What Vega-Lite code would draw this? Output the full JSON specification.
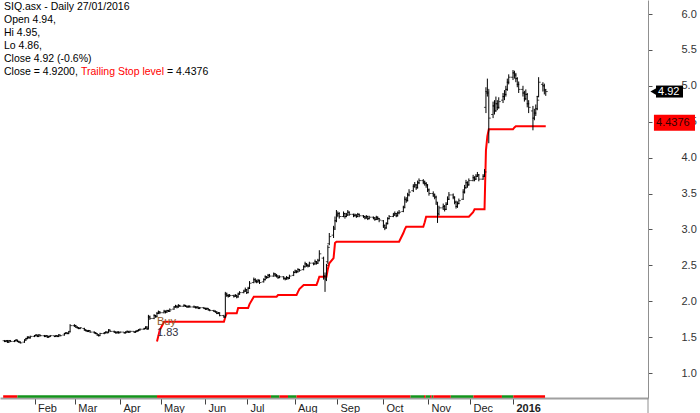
{
"$schema": "https://vega.github.io/schema/vega-lite/v6.json",
"width": 648, "height": 398,
"autosize": {"type": "none"},
"padding": {"left": 0, "top": 0, "right": 52, "bottom": 15},
"background": "white",
"config": {"view": {"stroke": null}, "font": "Liberation Sans",
  "axisY": {"labelOverlap": false, "labelFlush": false, "labelSeparation": 0}},
"datasets": {
"bars": [
{"d":"2015-01-12","o":1.45,"h":1.46,"l":1.43,"c":1.44},
{"d":"2015-01-13","o":1.44,"h":1.46,"l":1.43,"c":1.45},
{"d":"2015-01-14","o":1.45,"h":1.46,"l":1.42,"c":1.43},
{"d":"2015-01-15","o":1.43,"h":1.46,"l":1.42,"c":1.45},
{"d":"2015-01-16","o":1.45,"h":1.46,"l":1.43,"c":1.44},
{"d":"2015-01-19","o":1.44,"h":1.46,"l":1.43,"c":1.45},
{"d":"2015-01-20","o":1.45,"h":1.47,"l":1.44,"c":1.46},
{"d":"2015-01-21","o":1.46,"h":1.46,"l":1.43,"c":1.44},
{"d":"2015-01-22","o":1.44,"h":1.45,"l":1.42,"c":1.43},
{"d":"2015-01-23","o":1.43,"h":1.44,"l":1.41,"c":1.42},
{"d":"2015-01-26","o":1.43,"h":1.47,"l":1.42,"c":1.46},
{"d":"2015-01-27","o":1.46,"h":1.49,"l":1.45,"c":1.48},
{"d":"2015-01-28","o":1.48,"h":1.51,"l":1.47,"c":1.50},
{"d":"2015-01-29","o":1.50,"h":1.51,"l":1.48,"c":1.49},
{"d":"2015-01-30","o":1.49,"h":1.52,"l":1.48,"c":1.51},
{"d":"2015-02-02","o":1.51,"h":1.53,"l":1.50,"c":1.52},
{"d":"2015-02-03","o":1.52,"h":1.54,"l":1.51,"c":1.53},
{"d":"2015-02-04","o":1.53,"h":1.53,"l":1.50,"c":1.51},
{"d":"2015-02-05","o":1.51,"h":1.54,"l":1.50,"c":1.53},
{"d":"2015-02-06","o":1.53,"h":1.53,"l":1.51,"c":1.52},
{"d":"2015-02-09","o":1.52,"h":1.53,"l":1.50,"c":1.51},
{"d":"2015-02-10","o":1.51,"h":1.53,"l":1.50,"c":1.52},
{"d":"2015-02-11","o":1.52,"h":1.52,"l":1.49,"c":1.50},
{"d":"2015-02-12","o":1.50,"h":1.52,"l":1.49,"c":1.51},
{"d":"2015-02-13","o":1.51,"h":1.53,"l":1.50,"c":1.52},
{"d":"2015-02-16","o":1.52,"h":1.52,"l":1.50,"c":1.51},
{"d":"2015-02-17","o":1.51,"h":1.53,"l":1.50,"c":1.52},
{"d":"2015-02-18","o":1.52,"h":1.52,"l":1.50,"c":1.51},
{"d":"2015-02-19","o":1.51,"h":1.54,"l":1.50,"c":1.53},
{"d":"2015-02-20","o":1.53,"h":1.53,"l":1.51,"c":1.52},
{"d":"2015-02-23","o":1.53,"h":1.56,"l":1.52,"c":1.55},
{"d":"2015-02-24","o":1.55,"h":1.57,"l":1.54,"c":1.56},
{"d":"2015-02-25","o":1.56,"h":1.56,"l":1.54,"c":1.55},
{"d":"2015-02-26","o":1.55,"h":1.58,"l":1.54,"c":1.57},
{"d":"2015-02-27","o":1.58,"h":1.68,"l":1.57,"c":1.66},
{"d":"2015-03-02","o":1.66,"h":1.68,"l":1.64,"c":1.66},
{"d":"2015-03-03","o":1.66,"h":1.67,"l":1.63,"c":1.64},
{"d":"2015-03-04","o":1.64,"h":1.65,"l":1.62,"c":1.63},
{"d":"2015-03-05","o":1.63,"h":1.64,"l":1.61,"c":1.62},
{"d":"2015-03-06","o":1.62,"h":1.64,"l":1.61,"c":1.63},
{"d":"2015-03-09","o":1.62,"h":1.63,"l":1.59,"c":1.60},
{"d":"2015-03-10","o":1.60,"h":1.61,"l":1.58,"c":1.59},
{"d":"2015-03-11","o":1.59,"h":1.60,"l":1.57,"c":1.58},
{"d":"2015-03-12","o":1.58,"h":1.60,"l":1.57,"c":1.59},
{"d":"2015-03-13","o":1.59,"h":1.59,"l":1.56,"c":1.57},
{"d":"2015-03-16","o":1.57,"h":1.58,"l":1.55,"c":1.56},
{"d":"2015-03-17","o":1.56,"h":1.57,"l":1.54,"c":1.55},
{"d":"2015-03-18","o":1.55,"h":1.55,"l":1.52,"c":1.53},
{"d":"2015-03-19","o":1.53,"h":1.54,"l":1.51,"c":1.52},
{"d":"2015-03-20","o":1.52,"h":1.56,"l":1.52,"c":1.55},
{"d":"2015-03-23","o":1.55,"h":1.57,"l":1.54,"c":1.56},
{"d":"2015-03-24","o":1.56,"h":1.58,"l":1.55,"c":1.57},
{"d":"2015-03-25","o":1.57,"h":1.57,"l":1.55,"c":1.56},
{"d":"2015-03-26","o":1.57,"h":1.61,"l":1.56,"c":1.60},
{"d":"2015-03-27","o":1.60,"h":1.60,"l":1.57,"c":1.58},
{"d":"2015-03-30","o":1.58,"h":1.59,"l":1.56,"c":1.57},
{"d":"2015-03-31","o":1.57,"h":1.58,"l":1.55,"c":1.56},
{"d":"2015-04-01","o":1.56,"h":1.58,"l":1.55,"c":1.57},
{"d":"2015-04-02","o":1.57,"h":1.58,"l":1.55,"c":1.56},
{"d":"2015-04-03","o":1.56,"h":1.58,"l":1.56,"c":1.57},
{"d":"2015-04-06","o":1.57,"h":1.57,"l":1.55,"c":1.56},
{"d":"2015-04-07","o":1.56,"h":1.58,"l":1.55,"c":1.57},
{"d":"2015-04-08","o":1.57,"h":1.59,"l":1.56,"c":1.58},
{"d":"2015-04-09","o":1.58,"h":1.58,"l":1.56,"c":1.57},
{"d":"2015-04-10","o":1.57,"h":1.59,"l":1.56,"c":1.58},
{"d":"2015-04-13","o":1.58,"h":1.58,"l":1.56,"c":1.57},
{"d":"2015-04-14","o":1.57,"h":1.59,"l":1.56,"c":1.58},
{"d":"2015-04-15","o":1.58,"h":1.60,"l":1.57,"c":1.59},
{"d":"2015-04-16","o":1.59,"h":1.61,"l":1.58,"c":1.60},
{"d":"2015-04-17","o":1.60,"h":1.62,"l":1.59,"c":1.61},
{"d":"2015-04-20","o":1.61,"h":1.63,"l":1.60,"c":1.62},
{"d":"2015-04-21","o":1.62,"h":1.65,"l":1.61,"c":1.64},
{"d":"2015-04-22","o":1.64,"h":1.65,"l":1.60,"c":1.61},
{"d":"2015-04-23","o":1.62,"h":1.81,"l":1.61,"c":1.78},
{"d":"2015-04-24","o":1.78,"h":1.80,"l":1.74,"c":1.76},
{"d":"2015-04-27","o":1.76,"h":1.82,"l":1.75,"c":1.80},
{"d":"2015-04-28","o":1.80,"h":1.81,"l":1.77,"c":1.78},
{"d":"2015-04-29","o":1.79,"h":1.85,"l":1.78,"c":1.83,"s":1.44},
{"d":"2015-04-30","o":1.83,"h":1.87,"l":1.82,"c":1.85,"s":1.52},
{"d":"2015-05-01","o":1.85,"h":1.86,"l":1.82,"c":1.84,"s":1.60},
{"d":"2015-05-04","o":1.84,"h":1.88,"l":1.83,"c":1.86,"s":1.714},
{"d":"2015-05-05","o":1.86,"h":1.87,"l":1.83,"c":1.85,"s":1.714},
{"d":"2015-05-06","o":1.85,"h":1.88,"l":1.84,"c":1.87,"s":1.714},
{"d":"2015-05-07","o":1.87,"h":1.88,"l":1.85,"c":1.86,"s":1.714},
{"d":"2015-05-08","o":1.86,"h":1.90,"l":1.85,"c":1.88,"s":1.714},
{"d":"2015-05-11","o":1.89,"h":1.93,"l":1.88,"c":1.92,"s":1.714},
{"d":"2015-05-12","o":1.92,"h":1.95,"l":1.91,"c":1.93,"s":1.714},
{"d":"2015-05-13","o":1.93,"h":1.94,"l":1.90,"c":1.92,"s":1.714},
{"d":"2015-05-14","o":1.92,"h":1.96,"l":1.91,"c":1.94,"s":1.714},
{"d":"2015-05-15","o":1.94,"h":1.95,"l":1.92,"c":1.93,"s":1.714},
{"d":"2015-05-18","o":1.93,"h":1.96,"l":1.92,"c":1.94,"s":1.714},
{"d":"2015-05-19","o":1.94,"h":1.95,"l":1.92,"c":1.93,"s":1.714},
{"d":"2015-05-20","o":1.93,"h":1.94,"l":1.91,"c":1.92,"s":1.714},
{"d":"2015-05-21","o":1.92,"h":1.94,"l":1.91,"c":1.93,"s":1.714},
{"d":"2015-05-22","o":1.93,"h":1.94,"l":1.91,"c":1.92,"s":1.714},
{"d":"2015-05-25","o":1.92,"h":1.94,"l":1.91,"c":1.92,"s":1.714},
{"d":"2015-05-26","o":1.92,"h":1.93,"l":1.90,"c":1.91,"s":1.714},
{"d":"2015-05-27","o":1.91,"h":1.93,"l":1.90,"c":1.92,"s":1.714},
{"d":"2015-05-28","o":1.92,"h":1.92,"l":1.89,"c":1.90,"s":1.714},
{"d":"2015-05-29","o":1.90,"h":1.92,"l":1.89,"c":1.91,"s":1.714},
{"d":"2015-06-01","o":1.91,"h":1.92,"l":1.89,"c":1.90,"s":1.714},
{"d":"2015-06-02","o":1.90,"h":1.91,"l":1.88,"c":1.89,"s":1.714},
{"d":"2015-06-03","o":1.89,"h":1.91,"l":1.88,"c":1.90,"s":1.714},
{"d":"2015-06-04","o":1.90,"h":1.90,"l":1.87,"c":1.88,"s":1.714},
{"d":"2015-06-05","o":1.88,"h":1.89,"l":1.86,"c":1.87,"s":1.714},
{"d":"2015-06-08","o":1.87,"h":1.88,"l":1.85,"c":1.86,"s":1.714},
{"d":"2015-06-09","o":1.86,"h":1.87,"l":1.84,"c":1.85,"s":1.714},
{"d":"2015-06-10","o":1.85,"h":1.86,"l":1.82,"c":1.83,"s":1.714},
{"d":"2015-06-11","o":1.83,"h":1.85,"l":1.82,"c":1.84,"s":1.714},
{"d":"2015-06-12","o":1.84,"h":1.84,"l":1.79,"c":1.80,"s":1.714},
{"d":"2015-06-15","o":1.80,"h":1.81,"l":1.77,"c":1.78,"s":1.714},
{"d":"2015-06-16","o":1.78,"h":2.13,"l":1.77,"c":2.10,"s":1.78},
{"d":"2015-06-17","o":2.10,"h":2.12,"l":2.06,"c":2.08,"s":1.831},
{"d":"2015-06-18","o":2.08,"h":2.10,"l":2.05,"c":2.07,"s":1.831},
{"d":"2015-06-19","o":2.07,"h":2.10,"l":2.06,"c":2.08,"s":1.831},
{"d":"2015-06-22","o":2.08,"h":2.09,"l":2.05,"c":2.07,"s":1.831},
{"d":"2015-06-23","o":2.07,"h":2.10,"l":2.06,"c":2.08,"s":1.831},
{"d":"2015-06-24","o":2.08,"h":2.09,"l":2.04,"c":2.06,"s":1.831},
{"d":"2015-06-25","o":2.06,"h":2.12,"l":2.05,"c":2.10,"s":1.905},
{"d":"2015-06-26","o":2.10,"h":2.14,"l":2.09,"c":2.12,"s":1.905},
{"d":"2015-06-29","o":2.12,"h":2.16,"l":2.11,"c":2.14,"s":1.905},
{"d":"2015-06-30","o":2.14,"h":2.19,"l":2.13,"c":2.16,"s":1.905},
{"d":"2015-07-01","o":2.16,"h":2.17,"l":2.10,"c":2.12,"s":1.905},
{"d":"2015-07-02","o":2.12,"h":2.20,"l":2.11,"c":2.18,"s":1.905},
{"d":"2015-07-03","o":2.18,"h":2.28,"l":2.17,"c":2.25,"s":1.96},
{"d":"2015-07-06","o":2.26,"h":2.33,"l":2.25,"c":2.30,"s":2.063},
{"d":"2015-07-07","o":2.30,"h":2.32,"l":2.26,"c":2.28,"s":2.063},
{"d":"2015-07-08","o":2.28,"h":2.30,"l":2.25,"c":2.27,"s":2.063},
{"d":"2015-07-09","o":2.27,"h":2.31,"l":2.26,"c":2.29,"s":2.063},
{"d":"2015-07-10","o":2.29,"h":2.30,"l":2.24,"c":2.26,"s":2.063},
{"d":"2015-07-13","o":2.27,"h":2.32,"l":2.26,"c":2.30,"s":2.063},
{"d":"2015-07-14","o":2.30,"h":2.36,"l":2.29,"c":2.34,"s":2.063},
{"d":"2015-07-15","o":2.34,"h":2.35,"l":2.31,"c":2.33,"s":2.063},
{"d":"2015-07-16","o":2.33,"h":2.38,"l":2.32,"c":2.36,"s":2.063},
{"d":"2015-07-17","o":2.36,"h":2.38,"l":2.33,"c":2.35,"s":2.063},
{"d":"2015-07-20","o":2.35,"h":2.40,"l":2.34,"c":2.38,"s":2.063},
{"d":"2015-07-21","o":2.38,"h":2.39,"l":2.34,"c":2.36,"s":2.063},
{"d":"2015-07-22","o":2.36,"h":2.38,"l":2.33,"c":2.35,"s":2.063},
{"d":"2015-07-23","o":2.35,"h":2.36,"l":2.31,"c":2.33,"s":2.086},
{"d":"2015-07-24","o":2.33,"h":2.36,"l":2.32,"c":2.34,"s":2.086},
{"d":"2015-07-27","o":2.34,"h":2.35,"l":2.30,"c":2.32,"s":2.086},
{"d":"2015-07-28","o":2.32,"h":2.33,"l":2.29,"c":2.31,"s":2.086},
{"d":"2015-07-29","o":2.31,"h":2.35,"l":2.30,"c":2.33,"s":2.086},
{"d":"2015-07-30","o":2.33,"h":2.34,"l":2.30,"c":2.32,"s":2.086},
{"d":"2015-07-31","o":2.32,"h":2.37,"l":2.31,"c":2.35,"s":2.086},
{"d":"2015-08-03","o":2.36,"h":2.42,"l":2.35,"c":2.40,"s":2.086},
{"d":"2015-08-04","o":2.40,"h":2.44,"l":2.39,"c":2.42,"s":2.086},
{"d":"2015-08-05","o":2.42,"h":2.43,"l":2.39,"c":2.41,"s":2.086},
{"d":"2015-08-06","o":2.41,"h":2.46,"l":2.40,"c":2.44,"s":2.13},
{"d":"2015-08-07","o":2.44,"h":2.45,"l":2.41,"c":2.43,"s":2.17},
{"d":"2015-08-10","o":2.44,"h":2.50,"l":2.43,"c":2.48,"s":2.226},
{"d":"2015-08-11","o":2.48,"h":2.55,"l":2.47,"c":2.52,"s":2.226},
{"d":"2015-08-12","o":2.52,"h":2.53,"l":2.48,"c":2.50,"s":2.226},
{"d":"2015-08-13","o":2.50,"h":2.52,"l":2.47,"c":2.49,"s":2.226},
{"d":"2015-08-14","o":2.49,"h":2.55,"l":2.48,"c":2.53,"s":2.226},
{"d":"2015-08-17","o":2.53,"h":2.54,"l":2.50,"c":2.52,"s":2.226},
{"d":"2015-08-18","o":2.52,"h":2.58,"l":2.51,"c":2.55,"s":2.226},
{"d":"2015-08-19","o":2.55,"h":2.56,"l":2.51,"c":2.53,"s":2.226},
{"d":"2015-08-20","o":2.53,"h":2.59,"l":2.52,"c":2.56,"s":2.28},
{"d":"2015-08-21","o":2.57,"h":2.71,"l":2.56,"c":2.66,"s":2.341},
{"d":"2015-08-24","o":2.60,"h":2.62,"l":2.30,"c":2.35,"s":2.341},
{"d":"2015-08-25","o":2.35,"h":2.40,"l":2.13,"c":2.30,"s":2.341},
{"d":"2015-08-26","o":2.32,"h":2.52,"l":2.28,"c":2.50,"s":2.341},
{"d":"2015-08-27","o":2.55,"h":2.78,"l":2.52,"c":2.75,"s":2.45},
{"d":"2015-08-28","o":2.80,"h":2.95,"l":2.78,"c":2.90,"s":2.528},
{"d":"2015-08-31","o":2.92,"h":3.05,"l":2.88,"c":3.00,"s":2.60},
{"d":"2015-09-01","o":3.02,"h":3.18,"l":3.00,"c":3.12,"s":2.81},
{"d":"2015-09-02","o":3.12,"h":3.27,"l":3.10,"c":3.20,"s":2.829},
{"d":"2015-09-03","o":3.20,"h":3.25,"l":3.17,"c":3.22,"s":2.829},
{"d":"2015-09-04","o":3.22,"h":3.24,"l":3.15,"c":3.18,"s":2.829},
{"d":"2015-09-07","o":3.18,"h":3.25,"l":3.17,"c":3.22,"s":2.829},
{"d":"2015-09-08","o":3.22,"h":3.23,"l":3.15,"c":3.18,"s":2.829},
{"d":"2015-09-09","o":3.18,"h":3.23,"l":3.17,"c":3.20,"s":2.829},
{"d":"2015-09-10","o":3.20,"h":3.27,"l":3.19,"c":3.24,"s":2.829},
{"d":"2015-09-11","o":3.24,"h":3.25,"l":3.19,"c":3.21,"s":2.829},
{"d":"2015-09-14","o":3.21,"h":3.22,"l":3.17,"c":3.19,"s":2.829},
{"d":"2015-09-15","o":3.19,"h":3.22,"l":3.18,"c":3.20,"s":2.829},
{"d":"2015-09-16","o":3.20,"h":3.21,"l":3.16,"c":3.18,"s":2.829},
{"d":"2015-09-17","o":3.18,"h":3.23,"l":3.17,"c":3.21,"s":2.829},
{"d":"2015-09-18","o":3.21,"h":3.22,"l":3.17,"c":3.19,"s":2.829},
{"d":"2015-09-21","o":3.19,"h":3.20,"l":3.16,"c":3.18,"s":2.829},
{"d":"2015-09-22","o":3.18,"h":3.19,"l":3.14,"c":3.16,"s":2.829},
{"d":"2015-09-23","o":3.16,"h":3.20,"l":3.15,"c":3.18,"s":2.829},
{"d":"2015-09-24","o":3.18,"h":3.19,"l":3.13,"c":3.15,"s":2.829},
{"d":"2015-09-25","o":3.15,"h":3.19,"l":3.14,"c":3.17,"s":2.829},
{"d":"2015-09-28","o":3.17,"h":3.18,"l":3.14,"c":3.16,"s":2.829},
{"d":"2015-09-29","o":3.16,"h":3.17,"l":3.12,"c":3.14,"s":2.829},
{"d":"2015-09-30","o":3.14,"h":3.19,"l":3.13,"c":3.17,"s":2.829},
{"d":"2015-10-01","o":3.17,"h":3.18,"l":3.13,"c":3.15,"s":2.829},
{"d":"2015-10-02","o":3.15,"h":3.16,"l":3.10,"c":3.13,"s":2.829},
{"d":"2015-10-05","o":3.12,"h":3.13,"l":3.02,"c":3.05,"s":2.829},
{"d":"2015-10-06","o":3.05,"h":3.07,"l":2.99,"c":3.02,"s":2.829},
{"d":"2015-10-07","o":3.02,"h":3.10,"l":3.01,"c":3.08,"s":2.829},
{"d":"2015-10-08","o":3.08,"h":3.17,"l":3.07,"c":3.15,"s":2.829},
{"d":"2015-10-09","o":3.15,"h":3.20,"l":3.14,"c":3.18,"s":2.829},
{"d":"2015-10-12","o":3.18,"h":3.23,"l":3.17,"c":3.20,"s":2.829},
{"d":"2015-10-13","o":3.20,"h":3.25,"l":3.19,"c":3.22,"s":2.829},
{"d":"2015-10-14","o":3.22,"h":3.23,"l":3.17,"c":3.19,"s":2.829},
{"d":"2015-10-15","o":3.19,"h":3.25,"l":3.18,"c":3.23,"s":2.829},
{"d":"2015-10-16","o":3.23,"h":3.27,"l":3.21,"c":3.24,"s":2.829},
{"d":"2015-10-19","o":3.25,"h":3.33,"l":3.24,"c":3.30,"s":2.95},
{"d":"2015-10-20","o":3.31,"h":3.46,"l":3.30,"c":3.42,"s":3.0},
{"d":"2015-10-21","o":3.42,"h":3.45,"l":3.37,"c":3.40,"s":3.038},
{"d":"2015-10-22","o":3.40,"h":3.51,"l":3.39,"c":3.48,"s":3.038},
{"d":"2015-10-23","o":3.48,"h":3.56,"l":3.46,"c":3.52,"s":3.038},
{"d":"2015-10-26","o":3.54,"h":3.63,"l":3.52,"c":3.60,"s":3.038},
{"d":"2015-10-27","o":3.60,"h":3.66,"l":3.58,"c":3.62,"s":3.038},
{"d":"2015-10-28","o":3.62,"h":3.63,"l":3.55,"c":3.58,"s":3.038},
{"d":"2015-10-29","o":3.58,"h":3.68,"l":3.57,"c":3.65,"s":3.038},
{"d":"2015-10-30","o":3.65,"h":3.71,"l":3.63,"c":3.68,"s":3.038},
{"d":"2015-11-02","o":3.68,"h":3.70,"l":3.63,"c":3.66,"s":3.038},
{"d":"2015-11-03","o":3.66,"h":3.68,"l":3.61,"c":3.64,"s":3.10},
{"d":"2015-11-04","o":3.64,"h":3.66,"l":3.58,"c":3.62,"s":3.177},
{"d":"2015-11-05","o":3.62,"h":3.63,"l":3.52,"c":3.55,"s":3.177},
{"d":"2015-11-06","o":3.55,"h":3.57,"l":3.47,"c":3.50,"s":3.177},
{"d":"2015-11-09","o":3.50,"h":3.53,"l":3.45,"c":3.48,"s":3.177},
{"d":"2015-11-10","o":3.48,"h":3.50,"l":3.42,"c":3.45,"s":3.177},
{"d":"2015-11-11","o":3.45,"h":3.47,"l":3.35,"c":3.38,"s":3.177},
{"d":"2015-11-12","o":3.35,"h":3.38,"l":3.09,"c":3.20,"s":3.177},
{"d":"2015-11-13","o":3.22,"h":3.33,"l":3.20,"c":3.30,"s":3.177},
{"d":"2015-11-16","o":3.30,"h":3.36,"l":3.27,"c":3.32,"s":3.177},
{"d":"2015-11-17","o":3.32,"h":3.34,"l":3.25,"c":3.28,"s":3.177},
{"d":"2015-11-18","o":3.28,"h":3.38,"l":3.27,"c":3.35,"s":3.177},
{"d":"2015-11-19","o":3.35,"h":3.46,"l":3.34,"c":3.42,"s":3.177},
{"d":"2015-11-20","o":3.42,"h":3.52,"l":3.41,"c":3.48,"s":3.177},
{"d":"2015-11-23","o":3.48,"h":3.50,"l":3.42,"c":3.45,"s":3.177},
{"d":"2015-11-24","o":3.45,"h":3.46,"l":3.35,"c":3.38,"s":3.177},
{"d":"2015-11-25","o":3.38,"h":3.40,"l":3.29,"c":3.32,"s":3.177},
{"d":"2015-11-26","o":3.32,"h":3.39,"l":3.30,"c":3.36,"s":3.177},
{"d":"2015-11-27","o":3.36,"h":3.43,"l":3.35,"c":3.40,"s":3.177},
{"d":"2015-11-30","o":3.42,"h":3.56,"l":3.41,"c":3.52,"s":3.177},
{"d":"2015-12-01","o":3.52,"h":3.62,"l":3.50,"c":3.58,"s":3.177},
{"d":"2015-12-02","o":3.58,"h":3.69,"l":3.57,"c":3.65,"s":3.177},
{"d":"2015-12-03","o":3.65,"h":3.67,"l":3.58,"c":3.62,"s":3.177},
{"d":"2015-12-04","o":3.62,"h":3.71,"l":3.61,"c":3.68,"s":3.177},
{"d":"2015-12-07","o":3.68,"h":3.76,"l":3.67,"c":3.72,"s":3.24},
{"d":"2015-12-08","o":3.72,"h":3.74,"l":3.67,"c":3.70,"s":3.28},
{"d":"2015-12-09","o":3.70,"h":3.77,"l":3.69,"c":3.74,"s":3.28},
{"d":"2015-12-10","o":3.74,"h":3.80,"l":3.73,"c":3.76,"s":3.28},
{"d":"2015-12-11","o":3.76,"h":3.77,"l":3.67,"c":3.70,"s":3.28},
{"d":"2015-12-14","o":3.70,"h":3.77,"l":3.69,"c":3.74,"s":3.28},
{"d":"2015-12-15","o":3.74,"h":3.84,"l":3.73,"c":3.80,"s":3.28},
{"d":"2015-12-16","o":4.70,"h":4.98,"l":4.62,"c":4.90,"s":4.10},
{"d":"2015-12-17","o":4.92,"h":5.10,"l":4.85,"c":4.95,"s":4.30},
{"d":"2015-12-18","o":4.90,"h":4.94,"l":4.20,"c":4.55,"s":4.394},
{"d":"2015-12-21","o":4.60,"h":4.78,"l":4.55,"c":4.72,"s":4.394},
{"d":"2015-12-22","o":4.72,"h":4.80,"l":4.60,"c":4.65,"s":4.394},
{"d":"2015-12-23","o":4.65,"h":4.85,"l":4.64,"c":4.75,"s":4.394},
{"d":"2015-12-24","o":4.75,"h":4.80,"l":4.66,"c":4.70,"s":4.394},
{"d":"2015-12-25","o":4.70,"h":4.84,"l":4.68,"c":4.78,"s":4.394},
{"d":"2015-12-28","o":4.80,"h":4.90,"l":4.76,"c":4.85,"s":4.394},
{"d":"2015-12-29","o":4.85,"h":4.94,"l":4.80,"c":4.88,"s":4.394},
{"d":"2015-12-30","o":4.88,"h":5.00,"l":4.85,"c":4.95,"s":4.394},
{"d":"2015-12-31","o":4.95,"h":5.10,"l":4.93,"c":5.05,"s":4.394},
{"d":"2016-01-01","o":5.05,"h":5.16,"l":5.02,"c":5.12,"s":4.394},
{"d":"2016-01-04","o":5.12,"h":5.22,"l":5.08,"c":5.18,"s":4.394},
{"d":"2016-01-05","o":5.18,"h":5.21,"l":5.10,"c":5.15,"s":4.42},
{"d":"2016-01-06","o":5.15,"h":5.18,"l":5.05,"c":5.10,"s":4.4376},
{"d":"2016-01-07","o":5.10,"h":5.12,"l":4.98,"c":5.02,"s":4.4376},
{"d":"2016-01-08","o":5.02,"h":5.06,"l":4.90,"c":4.95,"s":4.4376},
{"d":"2016-01-11","o":4.95,"h":5.00,"l":4.85,"c":4.90,"s":4.4376},
{"d":"2016-01-12","o":4.90,"h":4.93,"l":4.78,"c":4.82,"s":4.4376},
{"d":"2016-01-13","o":4.82,"h":4.95,"l":4.80,"c":4.88,"s":4.4376},
{"d":"2016-01-14","o":4.88,"h":4.90,"l":4.70,"c":4.75,"s":4.4376},
{"d":"2016-01-15","o":4.75,"h":4.80,"l":4.62,"c":4.70,"s":4.4376},
{"d":"2016-01-18","o":4.65,"h":4.72,"l":4.38,"c":4.55,"s":4.4376},
{"d":"2016-01-19","o":4.55,"h":4.68,"l":4.52,"c":4.62,"s":4.4376},
{"d":"2016-01-20","o":4.62,"h":4.74,"l":4.58,"c":4.68,"s":4.4376},
{"d":"2016-01-21","o":4.68,"h":4.86,"l":4.66,"c":4.80,"s":4.4376},
{"d":"2016-01-22","o":4.85,"h":5.12,"l":4.84,"c":5.05,"s":4.4376},
{"d":"2016-01-25","o":5.02,"h":5.05,"l":4.92,"c":5.00,"s":4.4376},
{"d":"2016-01-26","o":5.00,"h":5.03,"l":4.88,"c":4.95,"s":4.4376},
{"d":"2016-01-27","o":4.94,"h":4.95,"l":4.86,"c":4.92,"s":4.4376}
],
"strip": [
{"a":"2015-01-11","b":"2015-01-21","zone":"red"},
{"a":"2015-01-21","b":"2015-04-29","zone":"green"},
{"a":"2015-04-29","b":"2015-07-18","zone":"red"},
{"a":"2015-07-18","b":"2015-07-24","zone":"green"},
{"a":"2015-07-24","b":"2015-07-30","zone":"red"},
{"a":"2015-07-30","b":"2015-08-05","zone":"green"},
{"a":"2015-08-05","b":"2015-10-24","zone":"red"},
{"a":"2015-10-24","b":"2015-11-02T12:00:00Z","zone":"green"},
{"a":"2015-11-02T12:00:00Z","b":"2015-11-03T17:00:00Z","zone":"red"},
{"a":"2015-11-03T17:00:00Z","b":"2015-11-06T17:00:00Z","zone":"green"},
{"a":"2015-11-06T17:00:00Z","b":"2015-11-07T22:00:00Z","zone":"red"},
{"a":"2015-11-07T22:00:00Z","b":"2015-11-09","zone":"green"},
{"a":"2015-11-09","b":"2015-11-21T07:00:00Z","zone":"red"},
{"a":"2015-11-21T07:00:00Z","b":"2015-12-07T05:00:00Z","zone":"green"},
{"a":"2015-12-07T05:00:00Z","b":"2015-12-27T05:00:00Z","zone":"red"},
{"a":"2015-12-27T05:00:00Z","b":"2016-01-04T05:00:00Z","zone":"green"},
{"a":"2016-01-04T05:00:00Z","b":"2016-01-26T12:00:00Z","zone":"red"}
],
"events": [{"d":"2015-04-29","event":"Buy","price":1.83}],
"tags": [{"label":"4.92","price":4.92,"kind":"close"},{"label":"4.4376","price":4.4376,"kind":"stop"}],
"one": [{"id":1}]
},
"layer": [
{"data":{"name":"bars"},
 "mark":{"type":"rule","color":"#000000","strokeWidth":1,"opacity":0},
 "encoding":{
  "x":{"field":"d","type":"temporal","title":null,
   "scale":{"type":"utc","domain":[{"year":2015,"month":1,"date":8,"hours":18,"minutes":30,"utc":true},{"year":2016,"month":4,"date":7,"hours":19,"utc":true}]},
   "axis":{"title":null,"grid":false,
    "values":[{"year":2015,"month":2,"date":2,"utc":true},{"year":2015,"month":3,"date":2,"hours":8,"utc":true},{"year":2015,"month":4,"date":3,"utc":true},{"year":2015,"month":5,"date":1,"hours":12,"utc":true},{"year":2015,"month":6,"date":1,"hours":16,"utc":true},{"year":2015,"month":7,"date":1,"hours":5,"utc":true},{"year":2015,"month":8,"date":3,"hours":14,"utc":true},{"year":2015,"month":9,"date":2,"hours":10,"utc":true},{"year":2015,"month":10,"date":4,"hours":16,"utc":true},{"year":2015,"month":11,"date":5,"hours":7,"utc":true},{"year":2015,"month":12,"date":4,"hours":19,"utc":true},{"year":2016,"month":1,"date":4,"utc":true}],
    "labelExpr":"utcmonth(datum.value) == 0 ? '2016' : utcFormat(datum.value, '%b')",
    "labelAlign":"left","labelOffset":3,"labelBaseline":"middle","labelPadding":4,"labelFlush":false,"labelOverlap":false,
    "labelFont":"Liberation Sans","labelFontSize":11,"labelColor":"#222222",
    "labelFontWeight":{"condition":{"test":"utcmonth(datum.value) == 0","value":"bold"},"value":"normal"},
    "tickSize":6,"tickColor":"#444444","tickWidth":1,
    "domainColor":"#a0a0a0","domainWidth":2}},
  "y":{"field":"l","type":"quantitative","title":null,
   "scale":{"domain":[0.652,6.195],"nice":false,"zero":false},
   "axis":{"title":null,"orient":"right","grid":false,
    "values":[1,1.5,2,2.5,3,3.5,4,4.5,5,5.5,6],"tickCount":11,"format":".1f","labelFlush":false,"labelOverlap":false,"labelSeparation":0,
    "tickSize":4,"tickColor":"#555555","labelPadding":29,
    "labelFont":"Liberation Sans","labelFontSize":11,"labelColor":"#333333",
    "domainColor":"#909090","domainWidth":1}},
  "y2":{"field":"h"}
 }},
{"data":{"name":"one"},
 "mark":{"type":"rule","color":"#909090","strokeWidth":1},
 "encoding":{
  "x":{"datum":{"year":2016,"month":4,"date":7,"hours":19,"utc":true},"type":"temporal","title":null},
  "y":{"datum":0.652,"type":"quantitative","title":null},
  "y2":{"datum":0.44}
 }},
{"data":{"name":"strip"},
 "mark":{"type":"rect"},
 "encoding":{
  "x":{"field":"a","type":"temporal","title":null},
  "x2":{"field":"b"},
  "y":{"datum":0.655,"type":"quantitative","title":null},
  "y2":{"datum":0.69},
  "color":{"field":"zone","type":"nominal","legend":null,"scale":{"domain":["green","red"],"range":["#13931b","#ff0000"]}}
 }},
{"data":{"name":"bars"},
 "mark":{"type":"line","color":"#ff0000","strokeWidth":2},
 "encoding":{
  "x":{"field":"d","type":"temporal","title":null},
  "y":{"field":"s","type":"quantitative","title":null}
 }},
{"data":{"name":"bars"},
 "mark":{"type":"rule","color":"#000000","strokeWidth":1},
 "encoding":{
  "x":{"field":"d","type":"temporal","title":null},
  "y":{"field":"l","type":"quantitative","title":null},
  "y2":{"field":"h"}
 }},
{"data":{"name":"bars"},
 "mark":{"type":"tick","orient":"horizontal","size":2,"thickness":1,"xOffset":-1,"color":"#000000"},
 "encoding":{
  "x":{"field":"d","type":"temporal","title":null},
  "y":{"field":"o","type":"quantitative","title":null}
 }},
{"data":{"name":"bars"},
 "mark":{"type":"tick","orient":"horizontal","size":2,"thickness":1,"xOffset":1,"color":"#000000"},
 "encoding":{
  "x":{"field":"d","type":"temporal","title":null},
  "y":{"field":"c","type":"quantitative","title":null}
 }},
{"data":{"name":"events"},
 "mark":{"type":"text","align":"left","baseline":"middle","dy":9,"fontSize":11,"font":"Liberation Sans","color":"#8b5a2b"},
 "encoding":{
  "x":{"field":"d","type":"temporal","title":null},
  "y":{"field":"price","type":"quantitative","title":null},
  "text":{"field":"event"}
 }},
{"data":{"name":"events"},
 "mark":{"type":"text","align":"left","baseline":"middle","dy":20,"fontSize":11,"font":"Liberation Sans","color":"#333344"},
 "encoding":{
  "x":{"field":"d","type":"temporal","title":null},
  "y":{"field":"price","type":"quantitative","title":null},
  "text":{"field":"price","format":".2f"}
 }},
{"data":{"name":"one"},
 "mark":{"type":"text","align":"left","baseline":"alphabetic","fontSize":10.5,"font":"Liberation Sans","color":"#000000","lineHeight":12.9,
  "text":["SIQ.asx - Daily 27/01/2016","Open 4.94,","Hi 4.95,","Lo 4.86,","Close 4.92 (-0.6%)","Close = 4.9200,"]},
 "encoding":{
  "x":{"datum":{"year":2015,"month":1,"date":11,"hours":14,"utc":true},"type":"temporal","title":null},
  "y":{"datum":6.049,"type":"quantitative","title":null}
 }},
{"data":{"name":"one"},
 "mark":{"type":"text","align":"left","baseline":"alphabetic","fontSize":10.5,"font":"Liberation Sans","color":"#ff0000","text":"Trailing Stop level"},
 "encoding":{
  "x":{"datum":{"year":2015,"month":3,"date":6,"hours":15,"utc":true},"type":"temporal","title":null},
  "y":{"datum":5.1504,"type":"quantitative","title":null}
 }},
{"data":{"name":"one"},
 "mark":{"type":"text","align":"left","baseline":"alphabetic","fontSize":10.5,"font":"Liberation Sans","color":"#000000","text":"= 4.4376"},
 "encoding":{
  "x":{"datum":{"year":2015,"month":5,"date":6,"hours":2,"utc":true},"type":"temporal","title":null},
  "y":{"datum":5.1504,"type":"quantitative","title":null}
 }},
{"data":{"name":"tags"},
 "transform":[{"filter":"datum.kind == 'close'"}],
 "mark":{"type":"rule","color":"#000000","strokeWidth":12,"strokeCap":"butt"},
 "encoding":{
  "x":{"datum":{"year":2016,"month":4,"date":13,"hours":10,"utc":true},"type":"temporal","title":null},
  "x2":{"datum":{"year":2016,"month":5,"date":2,"hours":9,"utc":true}},
  "y":{"field":"price","type":"quantitative","title":null}
 }},
{"data":{"name":"tags"},
 "transform":[{"filter":"datum.kind == 'close'"}],
 "mark":{"type":"point","shape":"triangle-left","filled":true,"color":"#000000","size":60,"opacity":1},
 "encoding":{
  "x":{"datum":{"year":2016,"month":4,"date":11,"hours":20,"utc":true},"type":"temporal","title":null},
  "y":{"field":"price","type":"quantitative","title":null}
 }},
{"data":{"name":"tags"},
 "transform":[{"filter":"datum.kind == 'close'"}],
 "mark":{"type":"text","align":"left","baseline":"middle","fontSize":11,"font":"Liberation Sans","color":"#ffffff"},
 "encoding":{
  "x":{"datum":{"year":2016,"month":4,"date":14,"hours":20,"utc":true},"type":"temporal","title":null},
  "y":{"field":"price","type":"quantitative","title":null},
  "text":{"field":"label"}
 }},
{"data":{"name":"tags"},
 "transform":[{"filter":"datum.kind == 'stop'"}],
 "mark":{"type":"rule","color":"#ff0000","strokeWidth":16,"strokeCap":"butt","yOffset":-3.5},
 "encoding":{
  "x":{"datum":{"year":2016,"month":4,"date":11,"hours":23,"utc":true},"type":"temporal","title":null},
  "x2":{"datum":{"year":2016,"month":5,"date":10,"hours":19,"utc":true}},
  "y":{"field":"price","type":"quantitative","title":null}
 }},
{"data":{"name":"tags"},
 "transform":[{"filter":"datum.kind == 'stop'"}],
 "mark":{"type":"text","align":"left","baseline":"middle","fontSize":11,"font":"Liberation Sans","color":"#330000","dy":-3.5},
 "encoding":{
  "x":{"datum":{"year":2016,"month":4,"date":13,"hours":10,"utc":true},"type":"temporal","title":null},
  "y":{"field":"price","type":"quantitative","title":null},
  "text":{"field":"label"}
 }}
]
}
